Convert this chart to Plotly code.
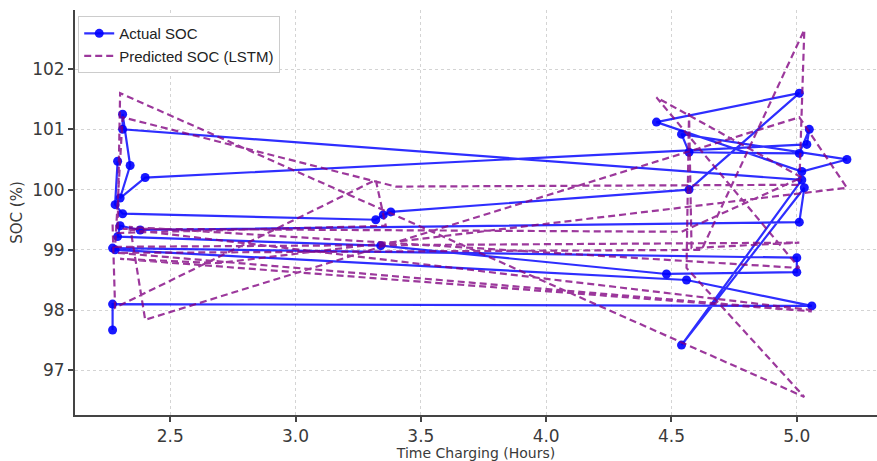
import plotly.graph_objects as go

# Actual SOC (time in hours, SOC %)
actual_time = [2.27, 2.27, 5.06, 4.56, 2.28, 2.27, 5.00, 5.00, 4.48, 3.34,
               2.29, 2.30, 2.38, 5.01, 5.03, 4.54, 5.02, 2.31, 2.31, 2.34,
               2.30, 2.40, 5.04, 5.05, 5.01, 4.57, 4.54, 5.20, 5.02, 4.44,
               5.01, 4.57, 3.38, 3.35, 3.32, 2.31, 2.28, 2.29]
actual_soc = [97.67, 98.10, 98.07, 98.50, 99.00, 99.03, 98.87, 98.63, 98.60, 99.07,
              99.22, 99.40, 99.33, 99.46, 100.03, 97.42, 100.16, 101.00, 101.25, 100.40,
              99.86, 100.20, 100.75, 101.00, 100.60, 100.62, 100.92, 100.50, 100.30, 101.12,
              101.60, 100.00, 99.63, 99.58, 99.50, 99.60, 99.75, 100.47]

# Predicted SOC (LSTM)
pred_time = [2.27, 2.28, 3.32, 3.36, 2.29, 2.30, 5.03, 4.56, 4.57, 4.58,
             5.01, 2.28, 2.31, 3.40, 5.01, 5.03, 4.62, 2.29, 5.06, 2.30,
             2.69, 5.20, 5.01, 2.40, 2.34, 5.01, 4.44, 5.02, 4.54, 2.31, 5.06]
pred_soc = [99.42, 98.04, 100.16, 99.40, 99.28, 101.60, 96.56, 98.70, 101.27, 99.03,
            99.12, 99.05, 101.20, 100.05, 100.08, 102.65, 99.00, 98.95, 97.98, 98.85,
            98.78, 100.03, 101.20, 97.84, 99.38, 98.70, 101.53, 100.20, 99.30, 99.35, 98.00]

x_ticks = [2.5, 3.0, 3.5, 4.0, 4.5, 5.0]
y_ticks = [97, 98, 99, 100, 101, 102]

fig = go.Figure()
fig.add_trace(go.Scatter(
    x=actual_time, y=actual_soc, mode="lines+markers", name="Actual SOC",
    line=dict(color="rgba(0,0,255,0.82)", width=2.2),
    marker=dict(color="rgba(0,0,255,0.9)", size=9),
))
fig.add_trace(go.Scatter(
    x=pred_time, y=pred_soc, mode="lines", name="Predicted SOC (LSTM)",
    line=dict(color="rgba(128,0,128,0.78)", width=2.2, dash="7px,4px"),
))

axis_common = dict(
    showline=True, linecolor="#444", linewidth=2, mirror=False,
    ticks="outside", ticklen=5, tickwidth=1.5, tickcolor="#444",
    showgrid=True, gridcolor="#d4d4d4", griddash="dot", gridwidth=1,
    zeroline=False,
    tickfont=dict(family="DejaVu Sans", size=17, color="#3a3a3a"),
)

fig.update_layout(
    width=877, height=461,
    margin=dict(l=75, r=0, t=10, b=46),
    paper_bgcolor="white", plot_bgcolor="white",
    showlegend=True,
    legend=dict(x=0.004, y=0.985, xanchor="left", yanchor="top",
                bgcolor="white", bordercolor="#cccccc", borderwidth=1,
                font=dict(family="Liberation Sans", size=15, color="#222")),
    xaxis=dict(range=[2.12, 5.32], tickvals=x_ticks,
               ticktext=[f"{v:.1f}" for v in x_ticks],
               title=dict(text="Time Charging (Hours)", standoff=1,
                          font=dict(family="DejaVu Sans", size=14, color="#3a3a3a")),
               **axis_common),
    yaxis=dict(range=[96.26, 102.98], tickvals=y_ticks,
               ticktext=[str(v) for v in y_ticks],
               title=dict(text="SOC (%)", standoff=6,
                          font=dict(family="DejaVu Sans", size=15, color="#3a3a3a")),
               **axis_common),
)

fig.write_html("out.html", config={"displayModeBar": False},
               post_script="document.body.style.margin='0';")
